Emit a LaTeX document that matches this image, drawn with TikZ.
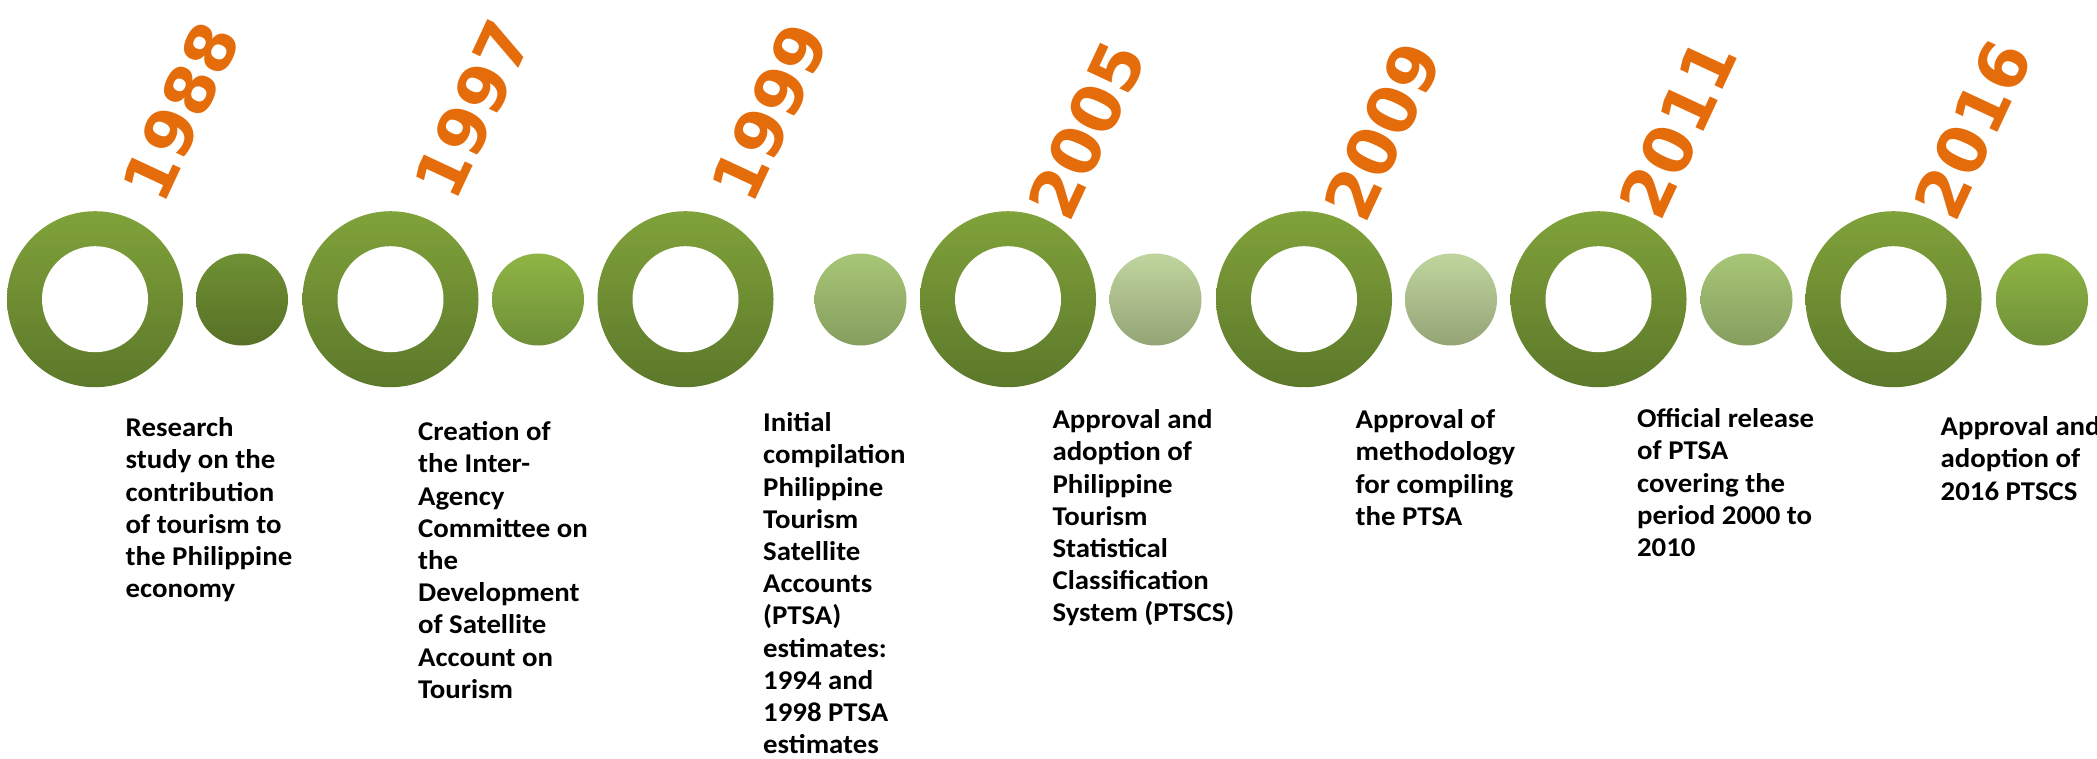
\documentclass[tikz,border=0pt]{standalone}
\usepackage{fontspec}
\setmainfont{Carlito}
\newfontfamily\yearfont{DejaVu Sans}
\usetikzlibrary{shapes.geometric}
\definecolor{ringtop}{HTML}{80A23A}
\definecolor{ringbot}{HTML}{5C782A}
\definecolor{yearorange}{HTML}{E46C0A}
\definecolor{darktop}{HTML}{6F9134}
\definecolor{darkbot}{HTML}{587026}
\definecolor{brighttop}{HTML}{8FB545}
\definecolor{brightbot}{HTML}{6E8F37}
\definecolor{midtop}{HTML}{A8C676}
\definecolor{midbot}{HTML}{859E5F}
\definecolor{paletop}{HTML}{C0D59E}
\definecolor{palebot}{HTML}{94A476}

\begin{document}
\begin{tikzpicture}[
  tlring/.style={circle, minimum size=1.76cm, inner sep=0pt,
    top color=ringtop, bottom color=ringbot},
  tlhole/.style={circle, minimum size=1.06cm, inner sep=0pt, fill=white},
  tldot/.style={circle, minimum size=0.92cm, inner sep=0pt},
  yearlabel/.style={font=\yearfont\bfseries\fontsize{19}{19}\selectfont,
    text=yearorange, inner sep=0pt, rotate=65},
  eventtext/.style={font=\bfseries\fontsize{8.2}{9.75}\selectfont,
    align=left, anchor=north west, inner sep=0pt, yscale=0.94}
]
  \useasboundingbox (0,0) rectangle (20.97,7.58);

  % Rings
  \foreach \n/\x in {1988/0.95, 1997/3.905, 1999/6.855, 2005/10.08,
                     2009/13.04, 2011/15.985, 2016/18.935} {
    \node[tlring] (ring\n) at (\x, 4.588) {};
    \node[tlhole] (hole\n) at (ring\n.center) {};
  }

  % Small dots
  \foreach \n/\x/\c in {1/2.42/dark, 2/5.38/bright, 3/8.605/mid,
                        4/11.555/pale, 5/14.51/pale, 6/17.465/mid,
                        7/20.42/bright} {
    \node[tldot, top color=\c top, bottom color=\c bot] (dot\n) at (\x, 4.585) {};
  }

  % Years
  \node[yearlabel] (lab1988) at (1.805, 6.465) {1988};
  \node[yearlabel] (lab1997) at (4.73, 6.49) {1997};
  \node[yearlabel] (lab1999) at (7.70, 6.46) {1999};
  \node[yearlabel] (lab2005) at (10.865, 6.28) {2005};
  \node[yearlabel] (lab2009) at (13.825, 6.27) {2009};
  \node[yearlabel] (lab2011) at (16.78, 6.293) {2011};
  \node[yearlabel] (lab2016) at (19.725, 6.285) {2016};

  % Events
  \node[eventtext] (ev1988) at (1.25, 3.41)
    {Research\\study on the\\contribution\\of tourism to\\the Philippine\\economy};
  \node[eventtext] (ev1997) at (4.174, 3.37)
    {Creation of\\the Inter-\\Agency\\Committee on\\the\\Development\\of Satellite\\Account on\\Tourism};
  \node[eventtext] (ev1999) at (7.625, 3.46)
    {Initial\\compilation\\Philippine\\Tourism\\Satellite\\Accounts\\(PTSA)\\estimates:\\1994 and\\1998 PTSA\\estimates};
  \node[eventtext] (ev2005) at (10.518, 3.49)
    {Approval and\\adoption of\\Philippine\\Tourism\\Statistical\\Classification\\System (PTSCS)};
  \node[eventtext] (ev2009) at (13.55, 3.49)
    {Approval of\\methodology\\for compiling\\the PTSA};
  \node[eventtext] (ev2011) at (16.364, 3.50)
    {Official release\\of PTSA\\covering the\\period 2000 to\\2010};
  \node[eventtext] (ev2016) at (19.40, 3.42)
    {Approval and\\adoption of\\2016 PTSCS};
\end{tikzpicture}
\end{document}
